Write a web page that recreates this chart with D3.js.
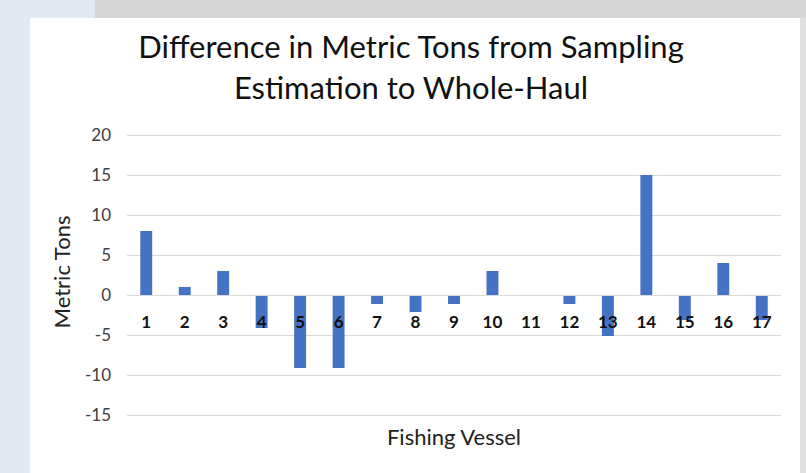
<!DOCTYPE html>
<html>
<head>
<meta charset="utf-8">
<script src="https://cdn.jsdelivr.net/npm/d3@7"></script>
<style>
  body { margin: 0; background: #e3e9f3; }
  svg { display: block; font-family: Lato, "Open Sans", sans-serif; }
</style>
</head>
<body>
<svg width="806" height="473"></svg>
<script>
// chart data
var vessels = ["1","2","3","4","5","6","7","8","9","10","11","12","13","14","15","16","17"];
var diffTons = [8, 1, 3, -4, -9, -9, -1, -2, -1, 3, 0, -1, -5, 15, -3, 4, -3];
var yTicks = [20, 15, 10, 5, 0, -5, -10, -15];

var svg = d3.select("svg"),
    margin = {top: 135, right: 25, bottom: 58, left: 127},
    width = 781 - margin.left,
    height = 415 - margin.top;

// slide frame around the chart
svg.append("rect").attr("width", 806).attr("height", 473).attr("fill", "#e3e9f3");
svg.append("rect").attr("x", 95).attr("y", 0).attr("width", 711).attr("height", 20).attr("fill", "#d6d6d6");
svg.append("rect").attr("x", 30).attr("y", 18).attr("width", 770).attr("height", 455).attr("fill", "#ffffff");
svg.append("rect").attr("x", 800).attr("y", 18).attr("width", 6).attr("height", 455).attr("fill", "#e0e0e0");

var x = d3.scaleBand()
    .domain(vessels)
    .range([0, width])
    .paddingInner(0.69)
    .paddingOuter(0.345);

var y = d3.scaleLinear()
    .domain([-15, 20])
    .range([height, 0]);

var g = svg.append("g")
    .attr("transform", "translate(" + margin.left + "," + margin.top + ")");

// gridlines + y labels (plain hyphen minus like the original)
var yAxis = g.append("g")
    .call(d3.axisLeft(y).tickValues(yTicks).tickSize(-width).tickPadding(16)
      .tickFormat(function(d) { return String(d); }));
yAxis.select(".domain").remove();
yAxis.selectAll(".tick line").attr("stroke", "#d9d9d9").attr("stroke-width", 1.2);
yAxis.selectAll(".tick text")
    .attr("fill", "#404040")
    .style("font-size", "17px")
    .style("font-family", "Lato, sans-serif");

// bars
g.append("g").selectAll("rect")
  .data(diffTons)
  .enter().append("rect")
    .attr("fill", "#4472c4")
    .attr("x", function(d, i) { return x(vessels[i]); })
    .attr("width", x.bandwidth())
    .attr("y", function(d) { return d >= 0 ? y(d) : y(0) + 1; })
    .attr("height", function(d) { return Math.abs(y(d) - y(0)); });

// category labels sit just below the zero line
g.append("g").selectAll("text")
  .data(vessels)
  .enter().append("text")
    .attr("x", function(d) { return x(d) + x.bandwidth() / 2; })
    .attr("y", y(0) + 33)
    .attr("text-anchor", "middle")
    .attr("fill", "#111")
    .style("font-size", "17px")
    .style("font-weight", "bold")
    .text(function(d) { return d; });

// titles
var title = svg.append("text")
    .attr("text-anchor", "middle")
    .attr("fill", "#111")
    .style("font-size", "31px");
title.append("tspan").attr("x", 411).attr("y", 58).text("Difference in Metric Tons from Sampling");
title.append("tspan").attr("x", 411).attr("y", 99).text("Estimation to Whole-Haul");

svg.append("text")
    .attr("transform", "translate(70,272) rotate(-90)")
    .attr("text-anchor", "middle")
    .attr("fill", "#222")
    .style("font-size", "22px")
    .text("Metric Tons");

svg.append("text")
    .attr("x", 454)
    .attr("y", 445)
    .attr("text-anchor", "middle")
    .attr("fill", "#222")
    .style("font-size", "22px")
    .text("Fishing Vessel");
</script>
</body>
</html>
